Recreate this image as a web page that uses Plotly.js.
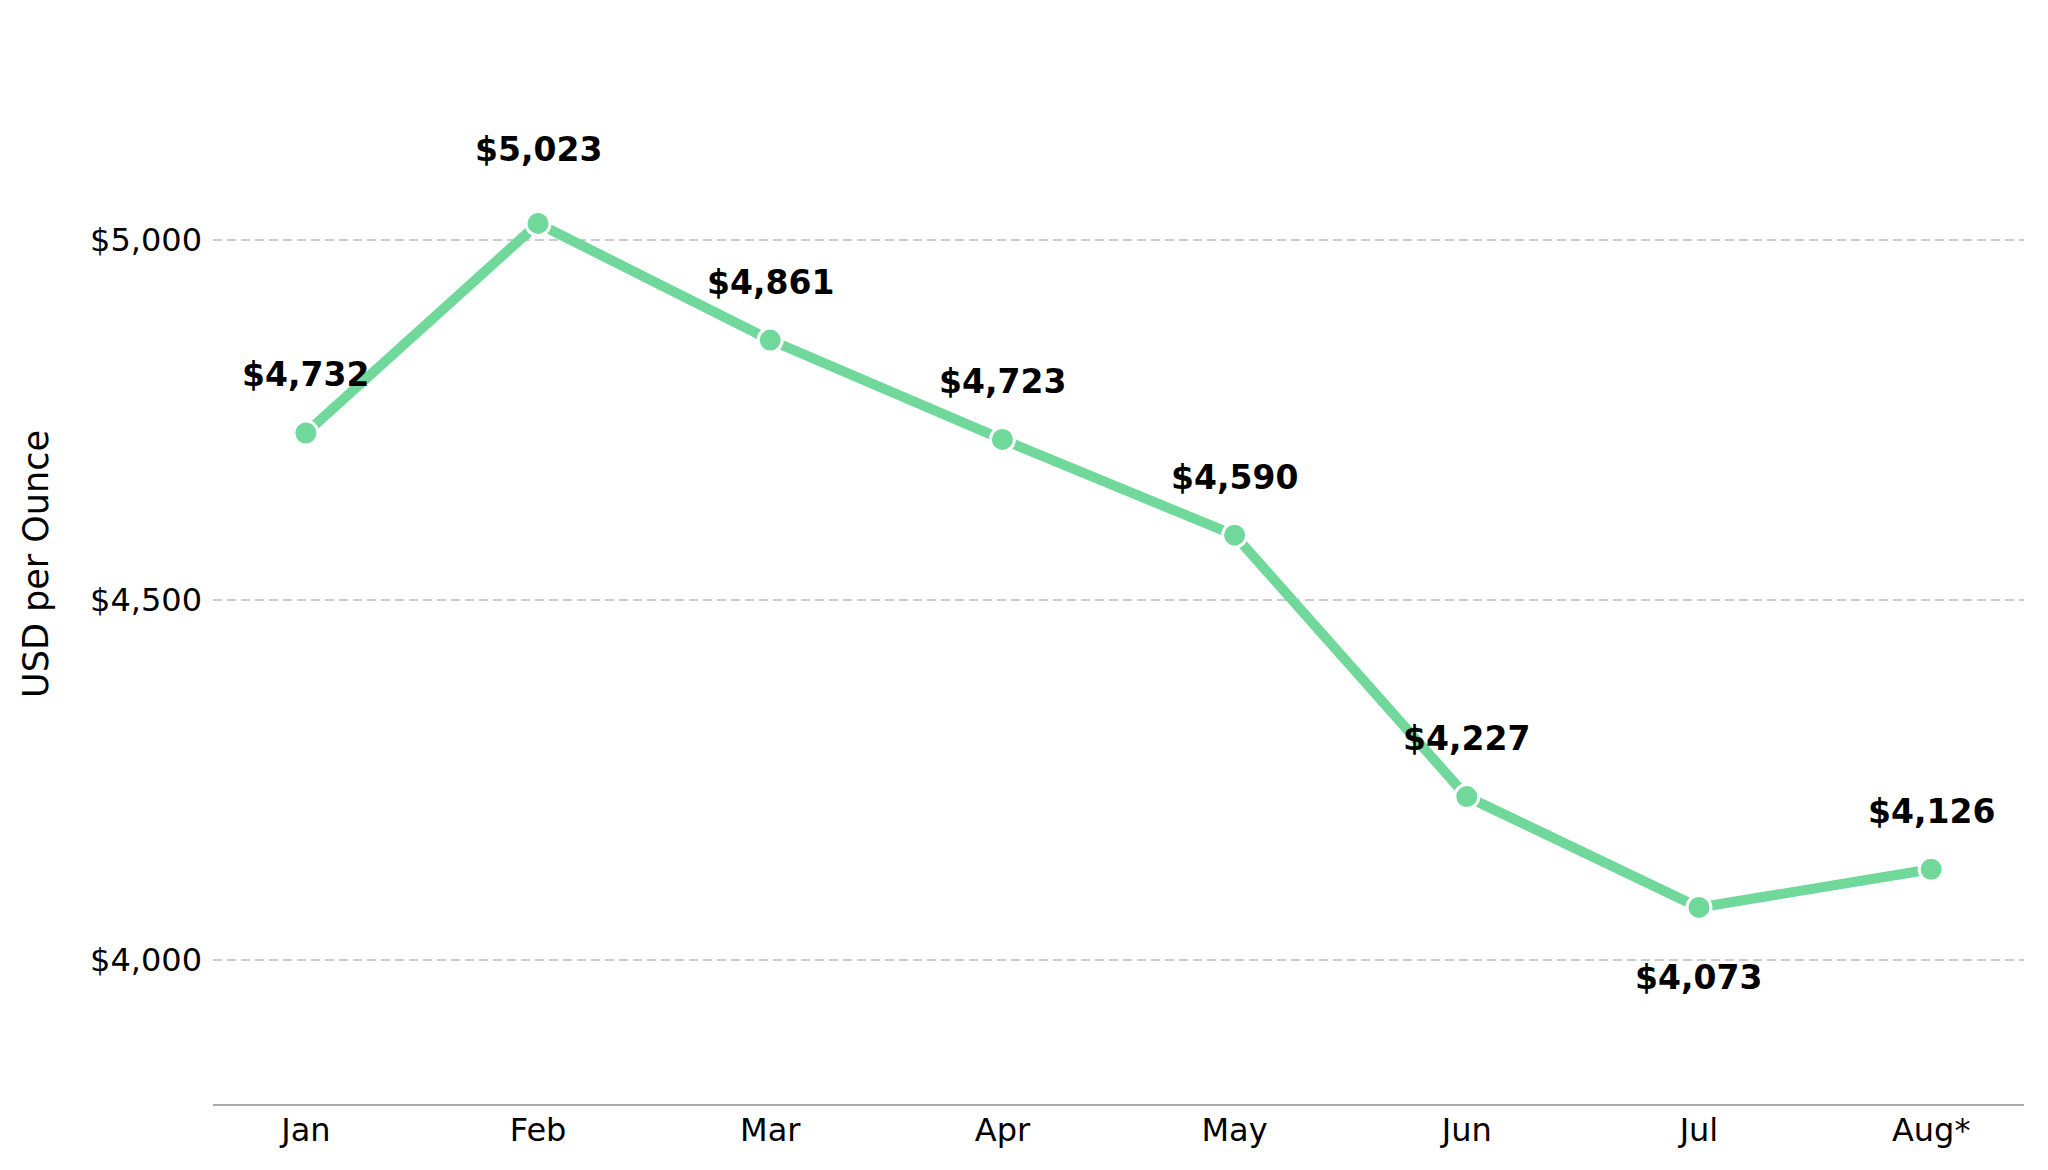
<!DOCTYPE html>
<html>
<head>
<meta charset="utf-8">
<script src="https://cdn.plot.ly/plotly-3.0.1.min.js"></script>
<style>
  html, body { margin: 0; padding: 0; background: #ffffff; }
  #chart { width: 2048px; height: 1170px; }
</style>
</head>
<body>
<div id="chart"></div>
<script>
// monthly average price, USD per ounce
var months = ['Jan', 'Feb', 'Mar', 'Apr', 'May', 'Jun', 'Jul', 'Aug*'];
var prices = [4732, 5023, 4861, 4723, 4590, 4227, 4073, 4126];

var yTickVals = [4000, 4500, 5000];
var yTickText = ['$4,000', '$4,500', '$5,000'];

var lineColor = '#6fd89a';

function money(v) {
    return '$' + v.toLocaleString('en-US');
}

var xIdx = months.map(function (m, i) { return i; });
var hi = prices.indexOf(Math.max.apply(null, prices));
var lo = prices.indexOf(Math.min.apply(null, prices));

var trace = {
    type: 'scatter',
    mode: 'lines+markers',
    x: xIdx,
    y: prices,
    line: { color: lineColor, width: 10 },
    marker: { size: 24, color: lineColor, line: { color: '#ffffff', width: 3 } },
    hoverinfo: 'skip'
};

//value labels above each point, peak a bit higher, the low one below
var annotations = [];
for (var i = 0; i < prices.length; i++) {
    var shift = 58;
    if (i == hi) shift = 74;
    if (i == lo) shift = -70;
    annotations.push({
        x: i,
        y: prices[i],
        xref: 'x',
        yref: 'y',
        text: money(prices[i]),
        showarrow: false,
        xanchor: 'center',
        yanchor: 'middle',
        yshift: shift,
        font: { family: 'DejaVu Sans', size: 33, color: '#000000', weight: 'bold' }
    });
}

var layout = {
    width: 2048,
    height: 1170,
    margin: { l: 213, r: 24, t: 24, b: 66 },
    paper_bgcolor: '#ffffff',
    plot_bgcolor: '#ffffff',
    showlegend: false,
    font: { family: 'DejaVu Sans', color: '#000000' },
    xaxis: {
        range: [-0.4, 7.4],
        tickvals: xIdx,
        ticktext: months,
        tickfont: { family: 'DejaVu Sans', size: 32, color: '#000000' },
        ticks: '',
        ticklabelstandoff: -3,
        showgrid: false,
        zeroline: false,
        showline: true,
        linecolor: '#aaaaaa',
        linewidth: 2,
        fixedrange: true
    },
    yaxis: {
        range: [3800, 5300],
        tickvals: yTickVals,
        ticktext: yTickText,
        tickfont: { family: 'DejaVu Sans', size: 32, color: '#000000' },
        ticks: '',
        ticklabelstandoff: 10,
        showgrid: true,
        gridcolor: '#cccccc',
        gridwidth: 2,
        griddash: '9px,5px',
        zeroline: false,
        showline: false,
        title: {
            text: 'USD per Ounce',
            font: { family: 'DejaVu Sans', size: 35, color: '#000000' },
            standoff: 30
        },
        fixedrange: true
    },
    annotations: annotations
};

Plotly.newPlot('chart', [trace], layout, { displayModeBar: false, staticPlot: true });
</script>
</body>
</html>
